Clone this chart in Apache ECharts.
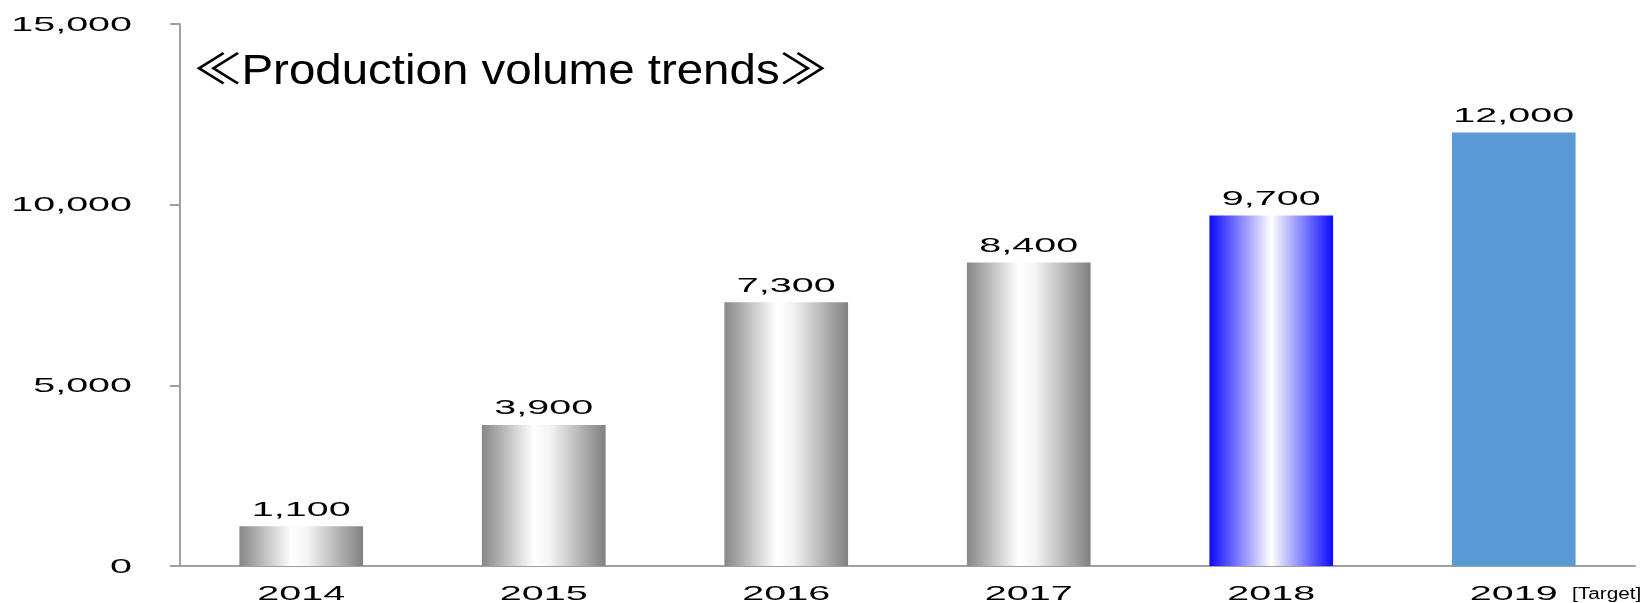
<!DOCTYPE html>
<html>
<head>
<meta charset="utf-8">
<script src="https://cdn.jsdelivr.net/npm/echarts@6/dist/echarts.min.js"></script>
<style>
html,body{margin:0;padding:0;background:#fff;}
#c{width:1647px;height:603px;}
</style>
</head>
<body>
<div id="c"></div>
<script>
const categories = ['2014', '2015', '2016', '2017', '2018', '2019'];
const values = [1100, 3900, 7300, 8400, 9700, 12000];
const yTicks = [0, 5000, 10000, 15000];
const titleText = '≪Production volume trends≫';
const noteText = '[Target]';

const NUM_FONT = 'Liberation Sans';
const NUM_SIZE = 21;
const NUM_STRETCH = 1.88;
const GRID_LEFT = 180;
const fmt = v => Number(v).toLocaleString('en-US');

function grayGrad() {
  return new echarts.graphic.LinearGradient(0, 0, 1, 0, [
    {offset: 0, color: '#868686'},
    {offset: 0.42, color: '#ffffff'},
    {offset: 0.55, color: '#f4f4f4'},
    {offset: 1, color: '#808080'}
  ]);
}
function blueGrad() {
  return new echarts.graphic.LinearGradient(0, 0, 1, 0, [
    {offset: 0, color: '#0a0aff'},
    {offset: 0.5, color: '#ffffff'},
    {offset: 1, color: '#0a0aff'}
  ]);
}
const barColors = [grayGrad(), grayGrad(), grayGrad(), grayGrad(), blueGrad(), '#5b9bd5'];

const chart = echarts.init(document.getElementById('c'));
chart.setOption({
  backgroundColor: '#ffffff',
  animation: false,
  grid: {left: GRID_LEFT, right: 12, top: 24, bottom: 37, containLabel: false, outerBoundsMode: 'none'},
  xAxis: {
    type: 'category',
    data: categories,
    axisLine: {lineStyle: {color: '#a0a0a0', width: 2}},
    axisTick: {show: false},
    axisLabel: {show: false}
  },
  yAxis: {
    type: 'value',
    min: 0,
    max: 15000,
    interval: 5000,
    axisLine: {show: true, lineStyle: {color: '#a0a0a0', width: 2}},
    axisTick: {show: true, length: 10, lineStyle: {color: '#a0a0a0', width: 2}},
    splitLine: {show: false},
    axisLabel: {show: false}
  },
  series: [{
    type: 'bar',
    barWidth: '51%',
    data: values.map((v, i) => ({value: v, itemStyle: {color: barColors[i]}})),
    label: {show: false}
  }]
});

// Stretched text labels, positioned through the chart's own scales
function stretchedText(text, x, y, align, size, family, stretch) {
  return {
    type: 'text',
    x: x, y: y,
    scaleX: stretch, scaleY: 1,
    silent: true,
    style: {
      text: text,
      fontFamily: family, fontSize: size,
      fill: '#000',
      align: align, verticalAlign: 'middle',
      textAlign: align, textVerticalAlign: 'middle'
    }
  };
}
const els = [];
const zeroY = chart.convertToPixel({yAxisIndex: 0}, 0);
yTicks.forEach(v => {
  const py = chart.convertToPixel({yAxisIndex: 0}, v);
  els.push(stretchedText(fmt(v), GRID_LEFT - 48, py + 1, 'right', NUM_SIZE, NUM_FONT, NUM_STRETCH));
});
categories.forEach((c, i) => {
  const px = chart.convertToPixel({xAxisIndex: 0}, c);
  els.push(stretchedText(c, px, zeroY + 28.5, 'center', NUM_SIZE, NUM_FONT, NUM_STRETCH));
  const top = chart.convertToPixel({yAxisIndex: 0}, values[i]);
  els.push(stretchedText(fmt(values[i]), px, top - 16.5, 'center', NUM_SIZE, NUM_FONT, NUM_STRETCH));
});
els.push(stretchedText(titleText, 194, 72, 'left', 42, '"Liberation Sans", "Noto Sans CJK JP"', 1.13));
els.push(stretchedText(noteText, 1572, zeroY + 29, 'left', 16, 'Liberation Sans', 1.3));
chart.setOption({graphic: {elements: els}});
</script>
</body>
</html>
